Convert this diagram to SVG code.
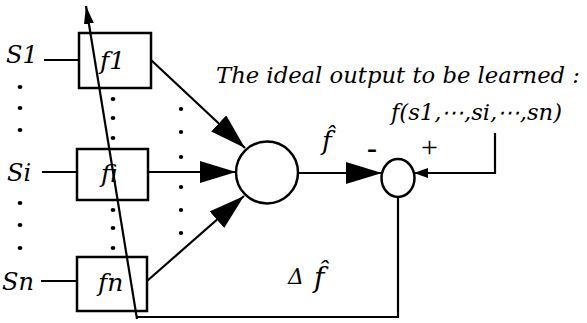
<svg xmlns="http://www.w3.org/2000/svg" width="587" height="323" viewBox="0 0 587 323">
<style>
.ln{stroke:#000;stroke-width:2.2;fill:none}
.bx{stroke:#000;stroke-width:2.5;fill:#fff}
.d{fill:#000}
.t{font-style:italic;fill:#000}
.r{fill:#000}
</style>
<defs>
<marker id="big" markerUnits="userSpaceOnUse" markerWidth="36" markerHeight="22" refX="36" refY="11" orient="auto"><path d="M0,0 L36,11 L0,22 z" fill="#000"/></marker>
<marker id="small" markerUnits="userSpaceOnUse" markerWidth="14" markerHeight="10" refX="14" refY="5" orient="auto"><path d="M0,0 L14,5 L0,10 z" fill="#000"/></marker>
<marker id="tip" markerUnits="userSpaceOnUse" markerWidth="18" markerHeight="10" refX="18" refY="5" orient="auto"><path d="M0,0 L18,5 L0,10 z" fill="#000"/></marker>
</defs>
<g id="dots">
<ellipse class="d" cx="20" cy="87" rx="2.4" ry="2"/><ellipse class="d" cx="20" cy="108" rx="2.4" ry="2"/><ellipse class="d" cx="20" cy="130" rx="2.4" ry="2"/>
<ellipse class="d" cx="20" cy="203" rx="2.4" ry="2"/><ellipse class="d" cx="20" cy="225" rx="2.4" ry="2"/><ellipse class="d" cx="20" cy="248" rx="2.4" ry="2"/>
<ellipse class="d" cx="113" cy="99" rx="2.4" ry="2"/><ellipse class="d" cx="113" cy="118" rx="2.4" ry="2"/><ellipse class="d" cx="113" cy="138" rx="2.4" ry="2"/>
<ellipse class="d" cx="113" cy="210" rx="2.4" ry="2"/><ellipse class="d" cx="113" cy="228" rx="2.4" ry="2"/><ellipse class="d" cx="113" cy="248" rx="2.4" ry="2"/>
<ellipse class="d" cx="181" cy="109" rx="2.2" ry="2"/><ellipse class="d" cx="181" cy="132" rx="2.2" ry="2"/><ellipse class="d" cx="181" cy="157" rx="2.2" ry="2"/>
<ellipse class="d" cx="181" cy="187" rx="2.2" ry="2"/><ellipse class="d" cx="181" cy="210" rx="2.2" ry="2"/><ellipse class="d" cx="181" cy="233" rx="2.2" ry="2"/>
</g>
<g id="connectors">
<line class="ln" x1="44" y1="60" x2="79" y2="60"/>
<line class="ln" x1="42" y1="172" x2="77" y2="172"/>
<line class="ln" x1="41" y1="281" x2="77" y2="281"/>
<line class="ln" x1="151" y1="60" x2="245" y2="148" marker-end="url(#big)"/>
<line class="ln" x1="148" y1="172" x2="236" y2="172" marker-end="url(#big)"/>
<line class="ln" x1="147" y1="281" x2="244" y2="196" marker-end="url(#big)"/>
<line class="ln" x1="298" y1="173" x2="382" y2="173" marker-end="url(#big)"/>
<path class="ln" d="M495 133 V173 H414" marker-end="url(#small)"/>
<path class="ln" d="M398 197 V317 H137"/>
</g>
<g id="f1"><rect class="bx" x="79" y="33" width="72" height="55"/><text class="t" font-family="DejaVu Serif, serif" x="100" y="69" font-size="25">f1</text></g>
<g id="fi"><rect class="bx" x="77" y="149" width="71" height="51"/><text class="t" font-family="DejaVu Serif, serif" x="101" y="182" font-size="25">fi</text></g>
<g id="fn"><rect class="bx" x="77" y="257" width="70" height="54"/><text class="t" font-family="DejaVu Serif, serif" x="98" y="291" font-size="25">fn</text></g>
<g id="sum"><circle class="bx" cx="267" cy="172.5" r="31"/></g>
<g id="compare"><ellipse class="bx" cx="398" cy="178" rx="16.5" ry="19"/></g>
<g id="learn"><line class="ln" x1="137" y1="319" x2="86" y2="6" marker-end="url(#tip)"/></g>
<g id="labels">
<text class="t" font-family="DejaVu Serif, serif" x="6" y="63" font-size="24">S1</text>
<text class="t" font-family="DejaVu Serif, serif" x="7" y="181" font-size="24">Si</text>
<text class="t" font-family="DejaVu Serif, serif" x="2" y="290" font-size="24">Sn</text>
<text class="t" font-family="DejaVu Serif, serif" x="216" y="83" font-size="22" textLength="364" lengthAdjust="spacingAndGlyphs">The ideal output to be learned :</text>
<text class="t" font-family="DejaVu Serif, serif" x="391" y="120" font-size="22" textLength="171" lengthAdjust="spacingAndGlyphs">f(s1,⋯,si,⋯,sn)</text>
<text class="t" font-family="DejaVu Serif, serif" x="322" y="150" font-size="26">f̂</text>
<text class="r" font-family="Liberation Serif, serif" x="367" y="158" font-size="30" font-weight="bold">-</text>
<text class="r" font-family="Liberation Serif, serif" x="421" y="157" font-size="30">+</text>
<text class="t" font-family="DejaVu Serif, serif" x="288" y="284" font-size="22">Δ</text>
<text class="t" font-family="DejaVu Serif, serif" x="314" y="287" font-size="28">f̂</text>
</g>
</svg>
